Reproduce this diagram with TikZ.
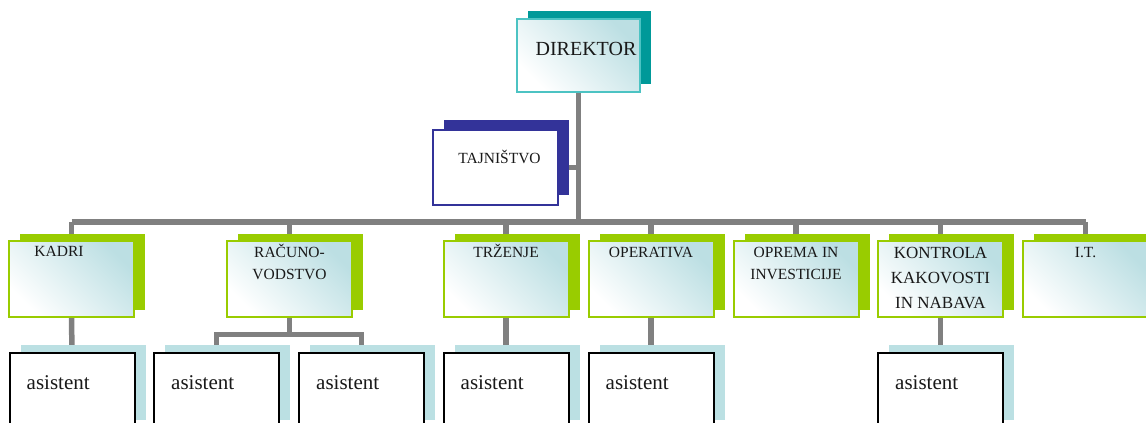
\documentclass[tikz,border=0pt]{standalone}
\usepackage{fontspec}
\setmainfont{Liberation Serif}
\usetikzlibrary{shadows,backgrounds}
\definecolor{teal1}{HTML}{009999}
\definecolor{tealb}{HTML}{4CC3C3}
\definecolor{grn}{HTML}{99CC00}
\definecolor{navy1}{HTML}{333399}
\definecolor{lblue}{HTML}{BBE0E3}
\definecolor{conncol}{HTML}{808080}
\definecolor{shadeb}{HTML}{BCDFE3}
\tikzset{
  boxbase/.style={rectangle, inner sep=0pt, minimum width=125pt, minimum height=76pt},
  shadedfill/.style={top color=shadeb, bottom color=white, shading angle=-45},
  dirbox/.style={boxbase, minimum width=123pt, minimum height=73pt, draw=tealb, line width=1.5pt, shadedfill,
    drop shadow={shadow xshift=10.5pt, shadow yshift=8pt, fill=teal1, opacity=1}},
  tajbox/.style={boxbase, minimum height=75pt, draw=navy1, line width=1.5pt, fill=white,
    drop shadow={shadow xshift=11pt, shadow yshift=10pt, fill=navy1, opacity=1}},
  deptbox/.style={boxbase, draw=grn, line width=2pt, shadedfill,
    drop shadow={shadow xshift=11pt, shadow yshift=7pt, fill=grn, opacity=1}},
  asbox/.style={boxbase, minimum height=75pt, draw=black, line width=2pt, fill=white,
    drop shadow={shadow xshift=11pt, shadow yshift=8pt, fill=lblue, opacity=1}},
  conn/.style={draw=conncol, line width=5.5pt},
  dtext/.style={inner sep=0pt, align=center, text=black!90, font=\fontsize{15.5}{22.5}\selectfont, anchor=base},
  astext/.style={inner sep=0pt, text=black!90, font=\fontsize{21}{24}\selectfont, anchor=base west},
}
\begin{document}
\begin{tikzpicture}[x=1pt,y=-1pt]
\useasboundingbox (0,0) rectangle (1146,423);
\clip (0,0) rectangle (1146,423);
% top
\node[dirbox] (dir) at (578.5,55.5) {};
\node[inner sep=0pt, anchor=base, text=black!90, font=\fontsize{20}{24}\selectfont] (dirt) at ([xshift=7.5pt]dir.center) {DIREKTOR};
\node[tajbox] (taj) at (495.5,167.5) {};
\node[inner sep=0pt, anchor=base, text=black!90, font=\fontsize{15.5}{24}\selectfont] (tajt) at ([xshift=4pt,yshift=4.5pt]taj.center) {TAJNIŠTVO};
% departments
\node[deptbox] (kadri) at (71.5,279) {};
\node[deptbox] (racun) at (289.5,279) {};
\node[deptbox] (trz) at (506,279) {};
\node[deptbox] (oper) at (651,279) {};
\node[deptbox] (oprema) at (796,279) {};
\node[deptbox] (kontr) at (940.5,279) {};
\node[deptbox] (it) at (1085.5,279) {};
% base anchor of a multi-line node is the baseline of its last line
\node[dtext] (kadrit) at ([xshift=-12.5pt,yshift=-16.5pt]kadri.north) {KADRI};
\node[dtext] (racunt) at ([yshift=-39.5pt]racun.north) {RAČUNO-\\VODSTVO};
\node[dtext] (trzt) at ([yshift=-17pt]trz.north) {TRŽENJE};
\node[dtext] (opert) at ([yshift=-17pt]oper.north) {OPERATIVA};
\node[dtext] (opremat) at ([yshift=-39.5pt]oprema.north) {OPREMA IN\\INVESTICIJE};
\node[dtext, font=\fontsize{17}{25}\selectfont] (kontrt) at ([yshift=-68pt]kontr.north) {KONTROLA\\KAKOVOSTI\\IN NABAVA};
\node[dtext] (itt) at ([yshift=-17pt]it.north) {I.T.};
% assistants
\node[asbox] (a1) at (72,390.5) {};
\node[asbox] (a2) at (216.5,390.5) {};
\node[asbox] (a3) at (361.5,390.5) {};
\node[asbox] (a4) at (506,390.5) {};
\node[asbox] (a5) at (651,390.5) {};
\node[asbox] (a6) at (940.5,390.5) {};
\foreach \a in {a1,a2,a3,a4,a5,a6}{
  \node[astext] (\a t) at ([xshift=18pt,yshift=-37pt]\a.north west) {asistent};
}
% connectors
\begin{pgfonlayer}{background}
\coordinate (bus) at (578.5,222);
\coordinate (rsplit) at (289.5,334.5);
\draw[conn] (dir.south) -- (bus);
\draw[conn] (kadri.north |- bus) -- (it.north |- bus);
\foreach \d in {kadri,racun,trz,oper,oprema,kontr,it}{
  \draw[conn] (\d.north) -- (\d.north |- bus);
}
\draw[conn] (taj.east) -- (taj.east -| dir.south);
\draw[conn] (kadri.south) -- (a1.north);
\draw[conn] (racun.south) -- (rsplit);
\draw[conn] (a2.north) |- (rsplit) -| (a3.north);
\draw[conn] (trz.south) -- (a4.north);
\draw[conn] (oper.south) -- (a5.north);
\draw[conn] (kontr.south) -- (a6.north);
\end{pgfonlayer}
\end{tikzpicture}
\end{document}
